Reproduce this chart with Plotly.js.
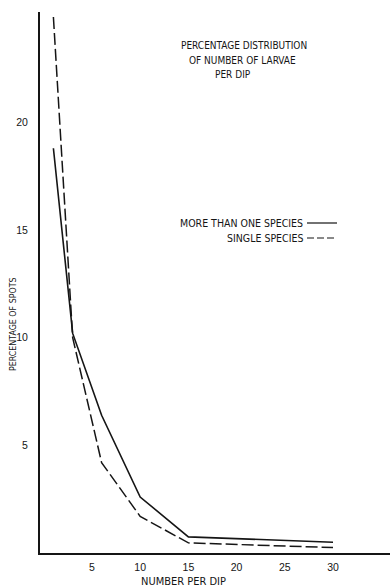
<!DOCTYPE html>
<html>
<head>
<meta charset="utf-8">
<script src="https://cdn.plot.ly/plotly-3.0.1.min.js"></script>
<style>html,body{margin:0;padding:0;background:#fff;}#chart{width:390px;height:587px;}</style>
</head>
<body>
<div id="chart"></div>
<script>
// Data
const numberPerDip = [1, 3, 6, 10, 15, 30];
const moreThanOneSpecies = [18.8, 10.2, 6.4, 2.6, 0.75, 0.5];
const singleSpecies = [24.9, 10.0, 4.2, 1.7, 0.47, 0.25];
const xTickVals = [5, 10, 15, 20, 25, 30];
const yTickVals = [5, 10, 15, 20];
const seriesNames = ['MORE THAN ONE SPECIES', 'SINGLE SPECIES'];

// layout geometry (pixels)
const W = 390, H = 587, L = 40, R = 0, T = 12, B = 34;
const px = x => (x - L) / (W - L - R);
const py = y => (H - B - y) / (H - T - B);

const FONT = 'Liberation Sans, Arial, sans-serif';
const NARROW = 'Liberation Sans Narrow, DejaVu Sans Condensed, sans-serif';
const INK = '#151515';

const traces = [
  {x: numberPerDip, y: moreThanOneSpecies, name: seriesNames[0], mode: 'lines',
   line: {color: INK, width: 1.6}},
  {x: numberPerDip, y: singleSpecies, name: seriesNames[1], mode: 'lines',
   line: {color: INK, width: 1.5, dash: '12px,4px'}}
];

const ann = (text, x, y, size, opts) => Object.assign({
  text: text, xref: 'paper', yref: 'paper', x: px(x), y: py(y),
  xanchor: 'center', yanchor: 'middle',
  showarrow: false, font: {family: NARROW, size: size, color: INK}
}, opts || {});

const layout = {
  width: W, height: H,
  margin: {l: L, r: R, t: T, b: B},
  paper_bgcolor: '#fff', plot_bgcolor: '#fff',
  showlegend: false,
  xaxis: {
    range: [-0.39, 35.91], tickvals: xTickVals, ticktext: xTickVals.map(String),
    showgrid: false, zeroline: false, showline: true, linecolor: INK, linewidth: 2,
    ticks: 'outside', ticklen: 3, tickcolor: 'rgba(0,0,0,0)',
    tickfont: {family: FONT, size: 10.5, color: INK}
  },
  yaxis: {
    range: [0, 25.13], tickvals: yTickVals, ticktext: yTickVals.map(String),
    showgrid: false, zeroline: false, showline: true, linecolor: INK, linewidth: 2,
    ticks: 'outside', ticklen: 8, tickcolor: 'rgba(0,0,0,0)',
    tickfont: {family: FONT, size: 10.5, color: INK}
  },
  annotations: [
    ann('PERCENTAGE DISTRIBUTION', 244, 45, 10),
    ann('OF NUMBER OF LARVAE', 242, 60, 10),
    ann('PER DIP', 233, 74, 10),
    ann(seriesNames[0], 305, 223, 10.5, {xanchor: 'right'}),
    ann(seriesNames[1], 305, 238, 10.5, {xanchor: 'right'}),
    ann('NUMBER PER DIP', 183, 581, 11),
    ann('PERCENTAGE OF SPOTS', 13, 324, 8.8, {textangle: -90})
  ],
  shapes: [
    {type: 'line', xref: 'paper', yref: 'paper', x0: px(307), x1: px(337), y0: py(223), y1: py(223),
     line: {color: INK, width: 1.2}},
    {type: 'line', xref: 'paper', yref: 'paper', x0: px(307), x1: px(337), y0: py(238), y1: py(238),
     line: {color: INK, width: 1.2, dash: '7px,3px'}}
  ]
};

Plotly.newPlot('chart', traces, layout, {displayModeBar: false, staticPlot: true});
</script>
</body>
</html>
